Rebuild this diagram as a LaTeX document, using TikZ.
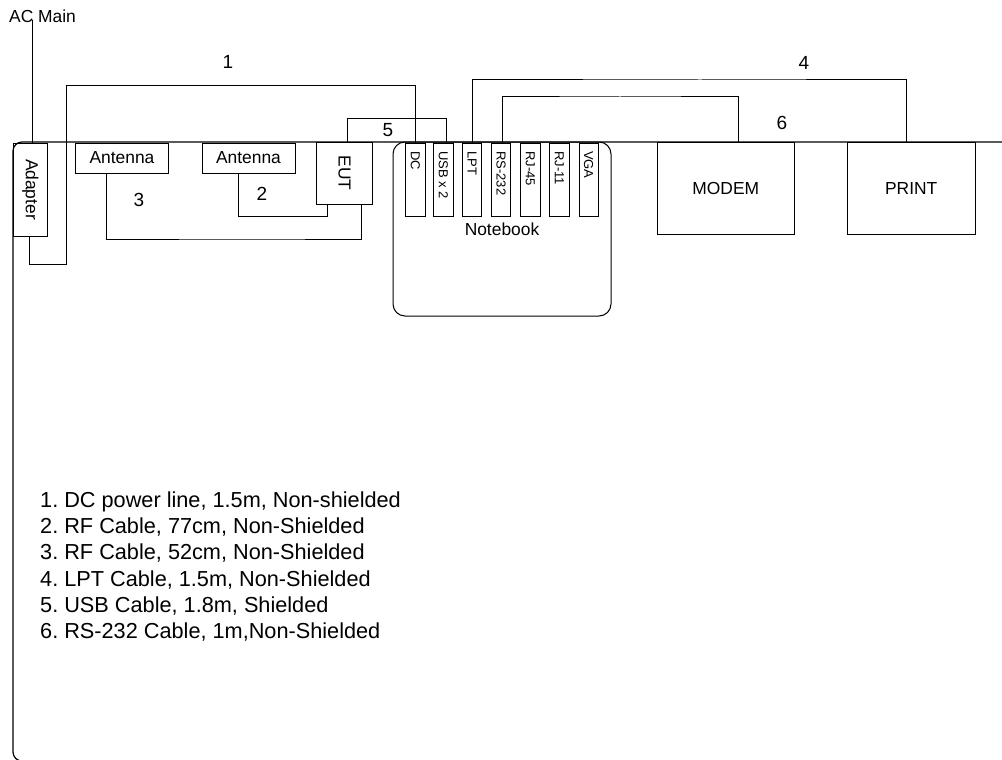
\documentclass[tikz,border=0pt]{standalone}
\usepackage{fontspec}
\setmainfont{Liberation Sans}
\usepackage{graphicx}
\usetikzlibrary{calc}
\newcommand\labfont{\fontsize{17.4}{20}\selectfont}
\newcommand\legfont{\fontsize{21.7}{26.2}\selectfont}
\newcommand\portfont{\fontsize{13}{15}\selectfont}
\newcommand\numfont{\fontsize{19}{22}\selectfont}
\begin{document}
\frenchspacing
\begin{tikzpicture}[x=1pt,y=-1pt,
  box/.style={draw, line width=1pt, rectangle, inner sep=0pt, font=\labfont},
  portbox/.style={draw, line width=1pt, rectangle, inner sep=0pt, minimum width=19.3pt, minimum height=73pt},
  porttext/.style={anchor=north, inner sep=0pt, font=\portfont},
  cable/.style={draw, line width=1pt},
  num/.style={inner sep=0pt, font=\numfont},
  leg/.style={anchor=base west, inner sep=0pt, font=\legfont}]
\path[use as bounding box] (0,0) rectangle (1002,760);
\begin{scope}
\clip (0,0) rectangle (1002,760);
\draw[line width=1.2pt, rounded corners=9pt] (13,142) rectangle (1030,761);
\end{scope}

% AC main
\node[anchor=base west, inner sep=0pt, font=\labfont] (acmain) at (9,23) {AC Main};
\coordinate (acin) at (32,20);

% boxes
\node[box, minimum width=34pt, minimum height=93pt] (adapter) at (30.3,189.5) {\rotatebox{-90}{Adapter}};
\node[box, minimum width=92.6pt, minimum height=30pt] (ant1) at (122,158) {Antenna};
\node[box, minimum width=93pt, minimum height=30pt] (ant2) at (248.5,158) {Antenna};
\node[box, minimum width=55.6pt, minimum height=62pt] (eut) at (344.5,173) {\rotatebox{-90}{EUT}};
\node[box, rounded corners=12pt, minimum width=218pt, minimum height=174pt] (notebook) at (502,229) {Notebook};
\node[box, minimum width=137pt, minimum height=92.3pt] (modem) at (725.8,188.2) {MODEM};
\node[box, minimum width=127.7pt, minimum height=92.3pt] (print) at (911.2,188.2) {PRINT};

% ports
\node[portbox, fill=white] (dc) at (415.4,179.5) {};
\node[portbox, fill=white] (usb) at (443.4,179.5) {};
\node[portbox, fill=white] (lpt) at (472,179.5) {};
\node[portbox, fill=white] (rs232) at (501.2,179.5) {};
\node[portbox, fill=white] (rj45) at (530.4,179.5) {};
\node[portbox, fill=white] (rj11) at (559.4,179.5) {};
\node[portbox, fill=white] (vga) at (588.7,179.5) {};
\node[porttext] (tdc) at ($(dc.north)+(0,8.5)$) {\rotatebox{-90}{DC}};
\node[porttext] (tusb) at ($(usb.north)+(0,8.5)$) {\rotatebox{-90}{USB x 2}};
\node[porttext] (tlpt) at ($(lpt.north)+(0,8.5)$) {\rotatebox{-90}{LPT}};
\node[porttext] (trs) at ($(rs232.north)+(0,8.5)$) {\rotatebox{-90}{RS-232}};
\node[porttext] (trj45) at ($(rj45.north)+(0,8.5)$) {\rotatebox{-90}{RJ-45}};
\node[porttext] (trj11) at ($(rj11.north)+(0,8.5)$) {\rotatebox{-90}{RJ-11}};
\node[porttext] (tvga) at ($(vga.north)+(0,8.5)$) {\rotatebox{-90}{VGA}};

% cables
\draw[cable] (acin) -- ($(adapter.north)+(1.7,0)$);
\draw[cable] ($(adapter.south)+(-1.3,0)$) -- ++(0,28) -| (66,86) -| (dc.north);
\draw[cable] ($(ant1.south)+(-15.3,0)$) |- (250,239) -| ($(eut.south)+(16.5,0)$);
\draw[cable] ($(ant2.south)+(-10.2,0)$) |- (290,216.7) -| ($(eut.south)+(-16.8,0)$);
\draw[cable] ($(eut.north)+(3.2,0)$) |- (400,118.3) -| ($(usb.north)+(2.9,0)$);
\draw[cable] ($(lpt.north)+(0.7,0)$) |- (700,80) -| ($(print.north)+(-5.2,0)$);
\draw[cable] ($(rs232.north)+(1.5,0)$) |- (620,97) -| ($(modem.north)+(12.5,0)$);

% cable numbers
\node[num] (n1) at (228,62) {1};
\node[num] (n2) at (262,194) {2};
\node[num] (n3) at (139,200) {3};
\node[num] (n4) at (804,63) {4};
\node[num] (n5) at (388,130) {5};
\node[num] (n6) at (782,123) {6};

% legend
\node[leg] (l1) at (40,507.5) {1. DC power line, 1.5m, Non-shielded};
\node[leg] (l2) at (40,533.7) {2. RF Cable, 77cm, Non-Shielded};
\node[leg] (l3) at (40,559.9) {3. RF Cable, 52cm, Non-Shielded};
\node[leg] (l4) at (40,586.1) {4. LPT Cable, 1.5m, Non-Shielded};
\node[leg] (l5) at (40,612.3) {5. USB Cable, 1.8m, Shielded};
\node[leg] (l6) at (40,638.5) {6. RS-232 Cable, 1m,Non-Shielded};
\end{tikzpicture}
\end{document}
